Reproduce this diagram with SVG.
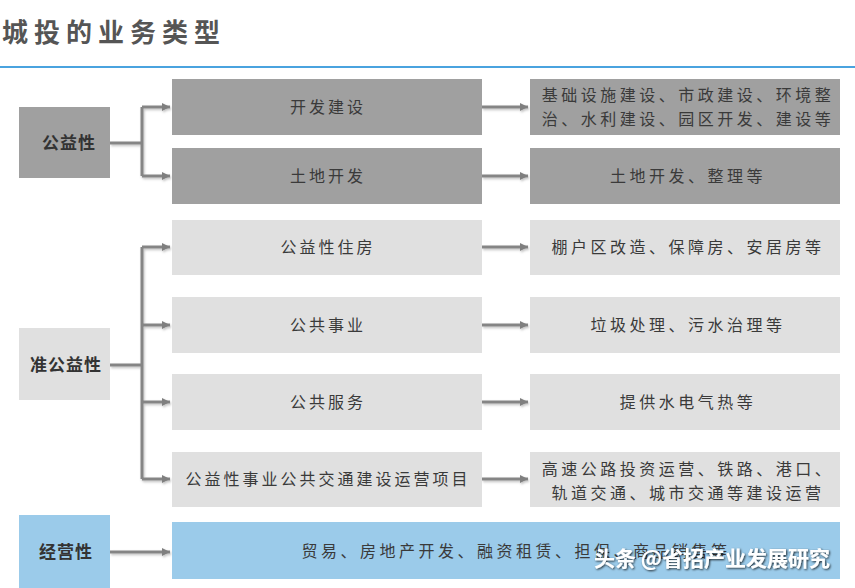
<svg xmlns="http://www.w3.org/2000/svg" width="855" height="588" viewBox="0 0 855 588">
<defs>
<marker id="ah" markerUnits="userSpaceOnUse" markerWidth="10" markerHeight="10" refX="8" refY="4" orient="auto">
<path d="M0,0 L8,4 L0,8 Z" fill="#7f7f7f"/>
</marker>
<filter id="sh" x="-10%" y="-10%" width="130%" height="140%">
<feDropShadow dx="1" dy="1.5" stdDeviation="1" flood-color="#000" flood-opacity="0.25"/>
</filter>
<filter id="wm" x="-5%" y="-20%" width="110%" height="150%">
<feDropShadow dx="1" dy="1" stdDeviation="0.8" flood-color="#000" flood-opacity="0.8"/>
</filter>
</defs>
<style>
text{font-family:"Noto Sans CJK SC","Noto Sans",sans-serif;}
.dark{fill:#a0a0a0;}
.light{fill:#e0e0e0;}
.blue{fill:#9bcbea;}
.cat{font-size:17px;font-weight:bold;fill:#333;text-anchor:middle;letter-spacing:1px;}
.mid{font-size:16px;fill:#3a3a3a;text-anchor:middle;letter-spacing:3px;}
.det{font-size:16px;fill:#3a3a3a;text-anchor:middle;letter-spacing:3.5px;}
.conn{stroke:#858585;stroke-width:3;fill:none;}
</style>
<rect width="855" height="588" fill="#fff"/>
<text x="2" y="42" font-size="26" font-weight="bold" fill="#555" letter-spacing="6">城投的业务类型</text>
<rect x="0" y="66" width="855" height="2" fill="#4aa3df"/>

<g id="connectors" filter="url(#sh)">
<path class="conn" d="M110 143 H142 M142 107 V176"/>
<path class="conn" d="M142 107 H170" marker-end="url(#ah)"/>
<path class="conn" d="M142 176 H170" marker-end="url(#ah)"/>
<path class="conn" d="M482 107 H528" marker-end="url(#ah)"/>
<path class="conn" d="M482 176 H528" marker-end="url(#ah)"/>
<path class="conn" d="M110 365 H142 M142 247 V479"/>
<path class="conn" d="M142 247 H170" marker-end="url(#ah)"/>
<path class="conn" d="M142 325 H170" marker-end="url(#ah)"/>
<path class="conn" d="M142 402 H170" marker-end="url(#ah)"/>
<path class="conn" d="M142 479 H170" marker-end="url(#ah)"/>
<path class="conn" d="M482 247 H528" marker-end="url(#ah)"/>
<path class="conn" d="M482 325 H528" marker-end="url(#ah)"/>
<path class="conn" d="M482 402 H528" marker-end="url(#ah)"/>
<path class="conn" d="M482 479 H528" marker-end="url(#ah)"/>
<path class="conn" d="M110 552 H170" marker-end="url(#ah)"/>
</g>

<g id="n-gongyi"><rect class="dark" x="19" y="107" width="91" height="71"/><text class="cat" x="69" y="149">公益性</text></g>
<g id="n-kaifa"><rect class="dark" x="172" y="79" width="310" height="56"/><text class="mid" x="328" y="113">开发建设</text></g>
<g id="n-tudi"><rect class="dark" x="172" y="148" width="310" height="56"/><text class="mid" x="328" y="182">土地开发</text></g>
<g id="n-kaifa-d"><rect class="dark" x="530" y="79" width="310" height="56"/><text class="det" x="688" y="101">基础设施建设、市政建设、环境整</text><text class="det" x="688" y="125">治、水利建设、园区开发、建设等</text></g>
<g id="n-tudi-d"><rect class="dark" x="530" y="148" width="310" height="56"/><text class="det" x="688" y="182">土地开发、整理等</text></g>

<g id="n-zhun"><rect class="light" x="19" y="328" width="91" height="72"/><text class="cat" x="66" y="371">准公益性</text></g>
<g id="n-zhufang"><rect class="light" x="172" y="220" width="310" height="55"/><text class="mid" x="328" y="253">公益性住房</text></g>
<g id="n-shiye"><rect class="light" x="172" y="297" width="310" height="56"/><text class="mid" x="328" y="331">公共事业</text></g>
<g id="n-fuwu"><rect class="light" x="172" y="374" width="310" height="56"/><text class="mid" x="328" y="408">公共服务</text></g>
<g id="n-jiaotong"><rect class="light" x="172" y="452" width="310" height="55"/><text class="mid" x="328" y="485" letter-spacing="2.5">公益性事业公共交通建设运营项目</text></g>
<g id="n-zhufang-d"><rect class="light" x="530" y="220" width="310" height="55"/><text class="det" x="688" y="253">棚户区改造、保障房、安居房等</text></g>
<g id="n-shiye-d"><rect class="light" x="530" y="297" width="310" height="56"/><text class="det" x="688" y="331">垃圾处理、污水治理等</text></g>
<g id="n-fuwu-d"><rect class="light" x="530" y="374" width="310" height="56"/><text class="det" x="688" y="408">提供水电气热等</text></g>
<g id="n-jiaotong-d"><rect class="light" x="530" y="452" width="310" height="55"/><text class="det" x="688" y="475">高速公路投资运营、铁路、港口、</text><text class="det" x="688" y="499">轨道交通、城市交通等建设运营</text></g>

<g id="n-jingying"><rect class="blue" x="19" y="515" width="91" height="73"/><text class="cat" x="66" y="558">经营性</text></g>
<g id="n-jingying-d"><rect class="blue" x="172" y="522" width="668" height="57"/><text class="det" x="516" y="557" letter-spacing="3">贸易、房地产开发、融资租赁、担保、商品销售等</text></g>

<text x="594" y="566" font-size="21" font-weight="bold" fill="#fff" filter="url(#wm)">头条 @省招产业发展研究</text>
</svg>
